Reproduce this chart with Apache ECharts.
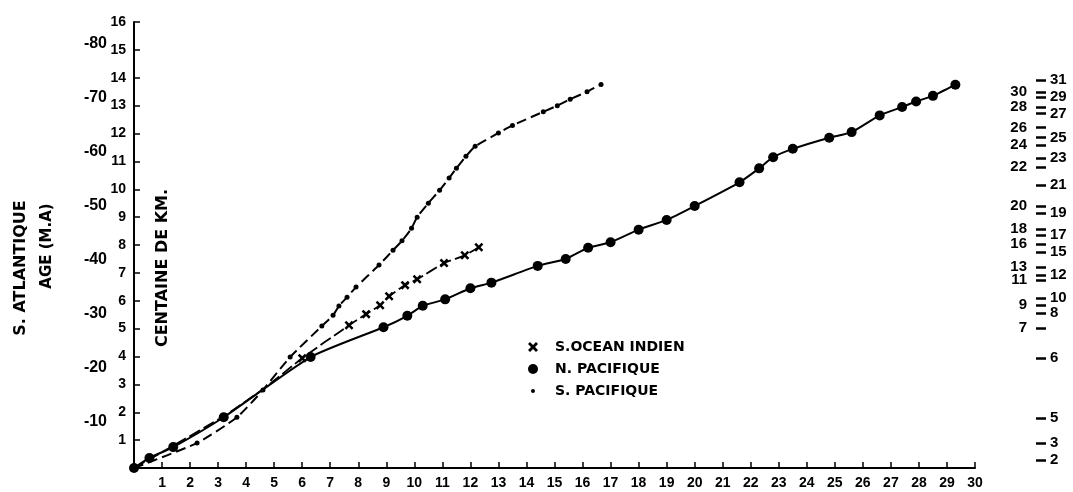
<!DOCTYPE html>
<html>
<head>
<meta charset="utf-8">
<script src="https://cdn.jsdelivr.net/npm/echarts@6/dist/echarts.min.js"></script>
<style>
  html, body { margin: 0; padding: 0; background: #fff; }
  #chart { width: 1073px; height: 492px; }
</style>
</head>
<body>
<div id="chart"></div>
<script>
// N. PACIFIQUE (gros points, trait plein)
var nPacX = [0, 0.55, 1.4, 3.2, 6.3, 8.9, 9.75, 10.3, 11.1, 12.0, 12.75, 14.4, 15.4, 16.2, 17.0, 18.0, 19.0, 20.0, 21.6, 22.3, 22.8, 23.5, 24.8, 25.6, 26.6, 27.4, 27.9, 28.5, 29.3];
var nPacY = [0, 0.36, 0.75, 1.82, 3.98, 5.05, 5.46, 5.82, 6.05, 6.45, 6.65, 7.25, 7.5, 7.9, 8.1, 8.55, 8.9, 9.4, 10.25, 10.75, 11.15, 11.45, 11.85, 12.05, 12.65, 12.95, 13.15, 13.35, 13.75];

// S. OCEAN INDIEN (croix, tirets) - les 4 premiers sommets sans marque
var indX = [0, 1.4, 3.2, 4.7, 6.0, 7.67, 8.28, 8.78, 9.1, 9.67, 10.1, 11.06, 11.8, 12.3];
var indY = [0, 0.8, 1.86, 2.9, 3.94, 5.12, 5.52, 5.84, 6.16, 6.56, 6.77, 7.35, 7.63, 7.92];
var indNoMark = 4;

// S. PACIFIQUE (petits points, trait mixte)
var sPacX = [0, 2.25, 3.67, 4.6, 5.57, 6.7, 7.1, 7.31, 7.6, 7.92, 8.74, 9.24, 9.56, 9.9, 10.1, 10.5, 10.9, 11.24, 11.5, 11.84, 12.17, 13.0, 13.5, 14.6, 15.1, 15.56, 16.16, 16.66];
var sPacY = [0, 0.9, 1.82, 2.8, 3.98, 5.09, 5.48, 5.81, 6.13, 6.49, 7.28, 7.81, 8.15, 8.6, 9.0, 9.5, 9.96, 10.4, 10.75, 11.18, 11.54, 12.02, 12.29, 12.78, 13.0, 13.23, 13.5, 13.76];

// echelle des anomalies (a droite), position en centaines de km
var anomLeftLabels = [30, 28, 26, 24, 22, 20, 18, 16, 13, 11, 9, 7];
var anomLeftPos = [13.48, 12.94, 12.22, 11.58, 10.79, 9.39, 8.57, 8.03, 7.20, 6.74, 5.84, 5.02];
var anomRightLabels = [31, 29, 27, 25, 23, 21, 19, 17, 15, 12, 10, 8, 6, 5, 3, 2];
var anomRightPos = [13.91, 13.30, 12.72, 11.86, 11.11, 10.14, 9.14, 8.35, 7.74, 6.92, 6.09, 5.56, 3.94, 1.79, 0.90, 0.29];

// age S. Atlantique : 10 M.A = 1.94 centaines de km
var ageStep = 10;
var agePerUnit = 10 / 1.94;

var numFont = '"Liberation Sans", Arial, sans-serif';
var txtFont = '"DejaVu Sans", sans-serif';
var crossPath = 'path://M0,2L2,0L5,3L8,0L10,2L7,5L10,8L8,10L5,7L2,10L0,8L3,5Z';
var dotPath = 'path://M0,0h0.01v0.01h-0.01zM10,10h0.01v0.01h-0.01zM3,5a2,2 0 1,0 4,0a2,2 0 1,0 -4,0z';

function zip(xs, ys) {
  return xs.map(function (x, i) { return [x, ys[i]]; });
}

function labelMap(pos, labels) {
  var m = {};
  pos.forEach(function (p, i) { m[p.toFixed(2)] = labels[i]; });
  return m;
}
var leftMap = labelMap(anomLeftPos, anomLeftLabels);
var rightMap = labelMap(anomRightPos, anomRightLabels);

var indData = zip(indX, indY).map(function (d, i) {
  return i < indNoMark ? { value: d, symbol: 'none' } : { value: d };
});

var chart = echarts.init(document.getElementById('chart'));

var option = {
  backgroundColor: '#fff',
  animation: false,
  grid: { left: 134, right: 98, top: 22, bottom: 24 },
  legend: {
    orient: 'vertical',
    left: 523,
    top: 335,
    itemWidth: 10,
    itemHeight: 10,
    itemGap: 8,
    textStyle: { fontFamily: txtFont, fontWeight: 'bold', fontSize: 14, color: '#000', padding: [0, 0, 0, 12] },
    data: [
      { name: 'S.OCEAN INDIEN', icon: crossPath },
      { name: 'N. PACIFIQUE', icon: 'circle' },
      { name: 'S. PACIFIQUE', icon: dotPath }
    ]
  },
  xAxis: {
    type: 'value',
    min: 0,
    max: 30,
    interval: 1,
    splitLine: { show: false },
    axisLine: { lineStyle: { color: '#000', width: 2 } },
    axisTick: { inside: true, length: 6, lineStyle: { color: '#000', width: 1.5 } },
    axisLabel: {
      margin: 8,
      color: '#000',
      fontFamily: numFont,
      fontWeight: 'bold',
      fontSize: 14,
      formatter: function (v) { return v === 0 ? '' : v; }
    }
  },
  yAxis: [
    {
      // centaines de km
      type: 'value',
      min: 0,
      max: 16,
      interval: 1,
      splitLine: { show: false },
      axisLine: { lineStyle: { color: '#000', width: 2 } },
      axisTick: { inside: true, length: 6, lineStyle: { color: '#000', width: 1.5 } },
      axisLabel: {
        margin: 8,
        color: '#000',
        fontFamily: numFont,
        fontWeight: 'bold',
        fontSize: 14,
        formatter: function (v) { return v === 0 ? '' : v; }
      }
    },
    {
      // age (M.A)
      type: 'value',
      position: 'left',
      min: 0,
      max: 16 * agePerUnit,
      interval: ageStep,
      splitLine: { show: false },
      axisLine: { show: false },
      axisTick: { show: false },
      axisLabel: {
        margin: 27,
        verticalAlign: 'top',
        color: '#000',
        fontFamily: numFont,
        fontWeight: 'bold',
        fontSize: 16,
        formatter: function (v) {
          return (v > 0 && v % ageStep === 0) ? '-' + v : '';
        }
      }
    },
    {
      // anomalies, chiffres a gauche
      type: 'value',
      position: 'right',
      offset: 71,
      min: 0,
      max: 16,
      splitLine: { show: false },
      axisLine: { show: false },
      axisTick: { show: true, inside: true, length: 10, customValues: anomLeftPos, lineStyle: { color: '#000', width: 2.5 } },
      axisLabel: {
        inside: true,
        margin: 19,
        customValues: anomLeftPos,
        color: '#000',
        fontFamily: numFont,
        fontWeight: 'bold',
        fontSize: 15,
        formatter: function (v) { return leftMap[v.toFixed(2)]; }
      }
    },
    {
      // anomalies, chiffres a droite
      type: 'value',
      position: 'right',
      offset: 61,
      min: 0,
      max: 16,
      splitLine: { show: false },
      axisLine: { show: false },
      axisTick: { show: true, length: 10, customValues: anomRightPos, lineStyle: { color: '#000', width: 2.5 } },
      axisLabel: {
        margin: 14,
        customValues: anomRightPos,
        color: '#000',
        fontFamily: numFont,
        fontWeight: 'bold',
        fontSize: 15,
        formatter: function (v) { return rightMap[v.toFixed(2)]; }
      }
    }
  ],
  graphic: [
    {
      type: 'text', x: 21, y: 268, rotation: Math.PI / 2,
      style: { text: 'S. ATLANTIQUE', align: 'center', verticalAlign: 'middle', fill: '#000', font: 'bold 16px "DejaVu Sans", sans-serif' }
    },
    {
      type: 'text', x: 47, y: 246, rotation: Math.PI / 2,
      style: { text: 'AGE (M.A)', align: 'center', verticalAlign: 'middle', fill: '#000', font: 'bold 15px "DejaVu Sans", sans-serif' }
    },
    {
      type: 'text', x: 163, y: 268, rotation: Math.PI / 2,
      style: { text: 'CENTAINE DE KM.', align: 'center', verticalAlign: 'middle', fill: '#000', font: 'bold 16px "DejaVu Sans", sans-serif' }
    }
  ],
  series: [
    {
      name: 'S.OCEAN INDIEN',
      type: 'line',
      smooth: 0.2,
      symbol: crossPath,
      symbolSize: 9,
      itemStyle: { color: '#000' },
      lineStyle: { color: '#000', width: 1.8, type: [12, 4] },
      data: indData
    },
    {
      name: 'N. PACIFIQUE',
      type: 'line',
      smooth: 0.2,
      symbol: 'circle',
      symbolSize: 10,
      itemStyle: { color: '#000' },
      lineStyle: { color: '#000', width: 2 },
      data: zip(nPacX, nPacY)
    },
    {
      name: 'S. PACIFIQUE',
      type: 'line',
      smooth: 0.2,
      symbol: 'circle',
      symbolSize: 5,
      itemStyle: { color: '#000' },
      lineStyle: { color: '#000', width: 2, type: [10, 5] },
      data: zip(sPacX, sPacY)
    }
  ]
};

chart.setOption(option);
</script>
</body>
</html>
